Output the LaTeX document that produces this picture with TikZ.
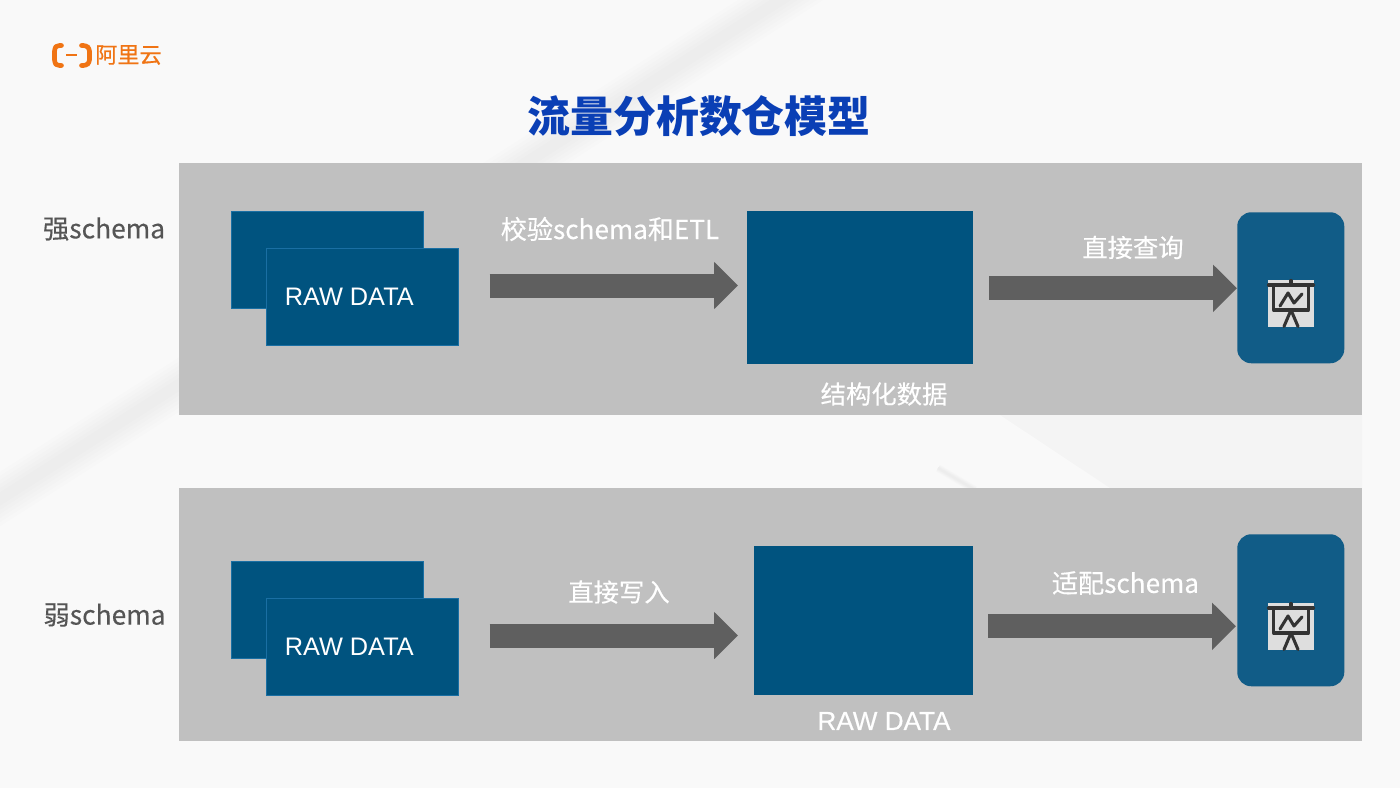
\documentclass[tikz,border=0pt]{standalone}
\usepackage{fontspec}
\setmainfont{Noto Sans CJK SC}
\newfontfamily\medfont[FakeBold=0.25]{Noto Sans CJK SC}
\newfontfamily\logofont[FakeBold=0.6]{Noto Sans CJK SC}
\newfontfamily\rawfont{Liberation Sans}
\newfontfamily\rawmed[FakeBold=0.4]{Liberation Sans}
\usetikzlibrary{arrows.meta}
\definecolor{pagebg}{HTML}{F9F9F9}
\definecolor{panelgray}{HTML}{C0C0C0}
\definecolor{boxblue}{HTML}{00537F}
\definecolor{boxedge}{HTML}{1A6FA3}
\definecolor{cardblue}{HTML}{115C87}
\definecolor{arrowgray}{HTML}{5F5F5F}
\definecolor{titleblue}{HTML}{0A3FB5}
\definecolor{logoorange}{HTML}{F07414}
\definecolor{sidetext}{HTML}{555555}
\definecolor{iconbg}{HTML}{DEDEDE}
\definecolor{iconline}{HTML}{333333}
\tikzset{
  x=0.75pt, y=-0.75pt,
  panel/.style={fill=panelgray, draw=none, anchor=north west, inner sep=0pt, minimum width=1183*0.75pt},
  rawbox/.style={fill=boxblue, draw=boxedge, line width=0.75pt, anchor=north west, inner sep=0pt, minimum width=191.5*0.75pt, minimum height=97*0.75pt},
  store/.style={fill=boxblue, draw=none, anchor=north west, inner sep=0pt},
  card/.style={fill=cardblue, draw=none, rounded corners=10.5pt, anchor=north west, inner sep=0pt, minimum width=107*0.75pt},
  blockarrow/.style={draw=arrowgray, line width=18pt, -{Triangle[length=18pt,width=34.5pt,fill=arrowgray]}},
  lbl/.style={text=white, font=\medfont\fontsize{19}{24}\selectfont, inner sep=0pt},
  wide lbl/.style={lbl, font=\medfont\fontsize{19.6}{24}\selectfont},
  sidelbl/.style={text=sidetext, font=\medfont\fontsize{19.8}{24}\selectfont, inner sep=0pt},
  rawlbl/.style={text=white, font=\rawfont\fontsize{19}{22}\selectfont, inner sep=0pt, anchor=west},
  iconstroke/.style={draw=iconline, line width=2.3pt, line cap=round, line join=round},
}
% Presentation-board icon, placed by its top-left corner
\newcommand{\boardicon}[2]{%
  \begin{scope}[shift={(#1,#2)}]
    \fill[iconbg] (0,0) rectangle (46,47);
    \draw[iconstroke] (23,0.5) -- (23,5);
    \draw[iconstroke] (0.5,5) -- (45.5,5);
    \draw[iconstroke] (5.5,5) -- (5.5,30) -- (40.5,30) -- (40.5,5);
    \draw[iconstroke] (12,26) -- (20,13) -- (26,23) -- (34,14);
    \draw[iconstroke] (23,30) -- (16,46.5);
    \draw[iconstroke] (23,30) -- (30,46.5);
  \end{scope}}
% Soft streak: stacked faint strokes that narrow towards the core
\newcommand{\softstreak}[5]{%
  \foreach \w in {1,0.85,0.7,0.55,0.4,0.25}
    \draw[#4, opacity=#5, line width=\w*#3*0.75pt] #1 -- #2;}
\begin{document}
\begin{tikzpicture}
  \useasboundingbox (0,0) rectangle (1400,788);
  \fill[pagebg] (0,0) rectangle (1400,788);

  % soft streaks of the slide background
  \begin{scope}
    \clip (0,0) rectangle (1400,788);
    \softstreak{(840,-38)}{(-50,531)}{46}{black}{0.006}
    \fill[black, opacity=0.018] (1000,415) -- (1362,415) -- (1362,488) -- (1110,488) -- cycle;
    \softstreak{(998,412)}{(1112,490)}{14}{white}{0.08}
    \softstreak{(938,468)}{(975,490)}{8}{black}{0.008}
  \end{scope}

  % logo
  \begin{scope}[draw=logoorange, line width=3.5pt, line cap=round, line join=round]
    \draw[rounded corners=2pt] (61.5,45.5) -- (57,45.5) -- (54.5,48.5) -- (54.5,62.5) -- (57,65.5) -- (61.5,65.5);
    \draw[rounded corners=2pt] (81.5,45.5) -- (86,45.5) -- (89.5,48.5) -- (89.5,62.5) -- (86,65.5) -- (81.5,65.5);
  \end{scope}
  \draw[logoorange, line width=1.5pt] (66,55.5) -- (77,55.5);
  \node[text=logoorange, inner sep=0pt, font=\logofont\fontsize{16.6}{20}\selectfont] (logotext) at (128.5,55) {阿里云};

  % title
  \node[text=titleblue, inner sep=0pt, font=\bfseries\fontsize{32.2}{38}\selectfont] (title) at (699,116) {流量分析数仓模型};

  % panels
  \node[panel, minimum height=252*0.75pt] (panelA) at (179,163) {};
  \node[panel, minimum height=253*0.75pt] (panelB) at (179,488) {};

  % row labels
  \node[sidelbl] (sideA) at (104,229) {强schema};
  \node[sidelbl] (sideB) at (104.5,615) {弱schema};

  % upper row
  \node[rawbox] (backA) at (231,211) {};
  \node[rawbox] (frontA) at (266,248) {};
  \node[rawlbl] (rawA) at (284.5,296.5) {RAW DATA};
  \node[store, minimum width=226*0.75pt, minimum height=153*0.75pt] (midA) at (747,211) {};
  \node[card, minimum height=151*0.75pt] (cardA) at (1237,212) {};
  \boardicon{1268}{280}
  \coordinate (startA1) at ([shift={(31,-11.5)}]frontA.east);
  \draw[blockarrow] (startA1) -- ([shift={(-9,0)}]midA.west |- startA1);
  \coordinate (startA2) at ([shift={(15.5,0.5)}]midA.east);
  \draw[blockarrow] (startA2) -- (cardA.west |- startA2);
  \node[wide lbl] (labelA1) at (610,229) {校验schema和ETL};
  \node[lbl] (labelA2) at (1133,247.5) {直接查询};
  \node[lbl] (labelA3) at (884,394) {结构化数据};

  % lower row
  \node[rawbox] (backB) at (231,561) {};
  \node[rawbox] (frontB) at (266,598) {};
  \node[rawlbl] (rawB) at (284.5,646.5) {RAW DATA};
  \node[store, minimum width=219*0.75pt, minimum height=149*0.75pt] (midB) at (754,546) {};
  \node[card, minimum height=152*0.75pt] (cardB) at (1237,534) {};
  \boardicon{1268}{603}
  \coordinate (startB1) at ([shift={(31,-11.5)}]frontB.east);
  \draw[blockarrow] (startB1) -- ([shift={(-16,0)}]midB.west |- startB1);
  \coordinate (startB2) at ([shift={(14.5,5.5)}]midB.east);
  \draw[blockarrow] (startB2) -- ([shift={(-1,0)}]cardB.west |- startB2);
  \node[lbl] (labelB1) at (619,592) {直接写入};
  \node[wide lbl] (labelB2) at (1125.5,583) {适配schema};
  \node[lbl, font=\rawmed\fontsize{19.6}{24}\selectfont] (labelB3) at (884,721) {RAW DATA};
\end{tikzpicture}
\end{document}
